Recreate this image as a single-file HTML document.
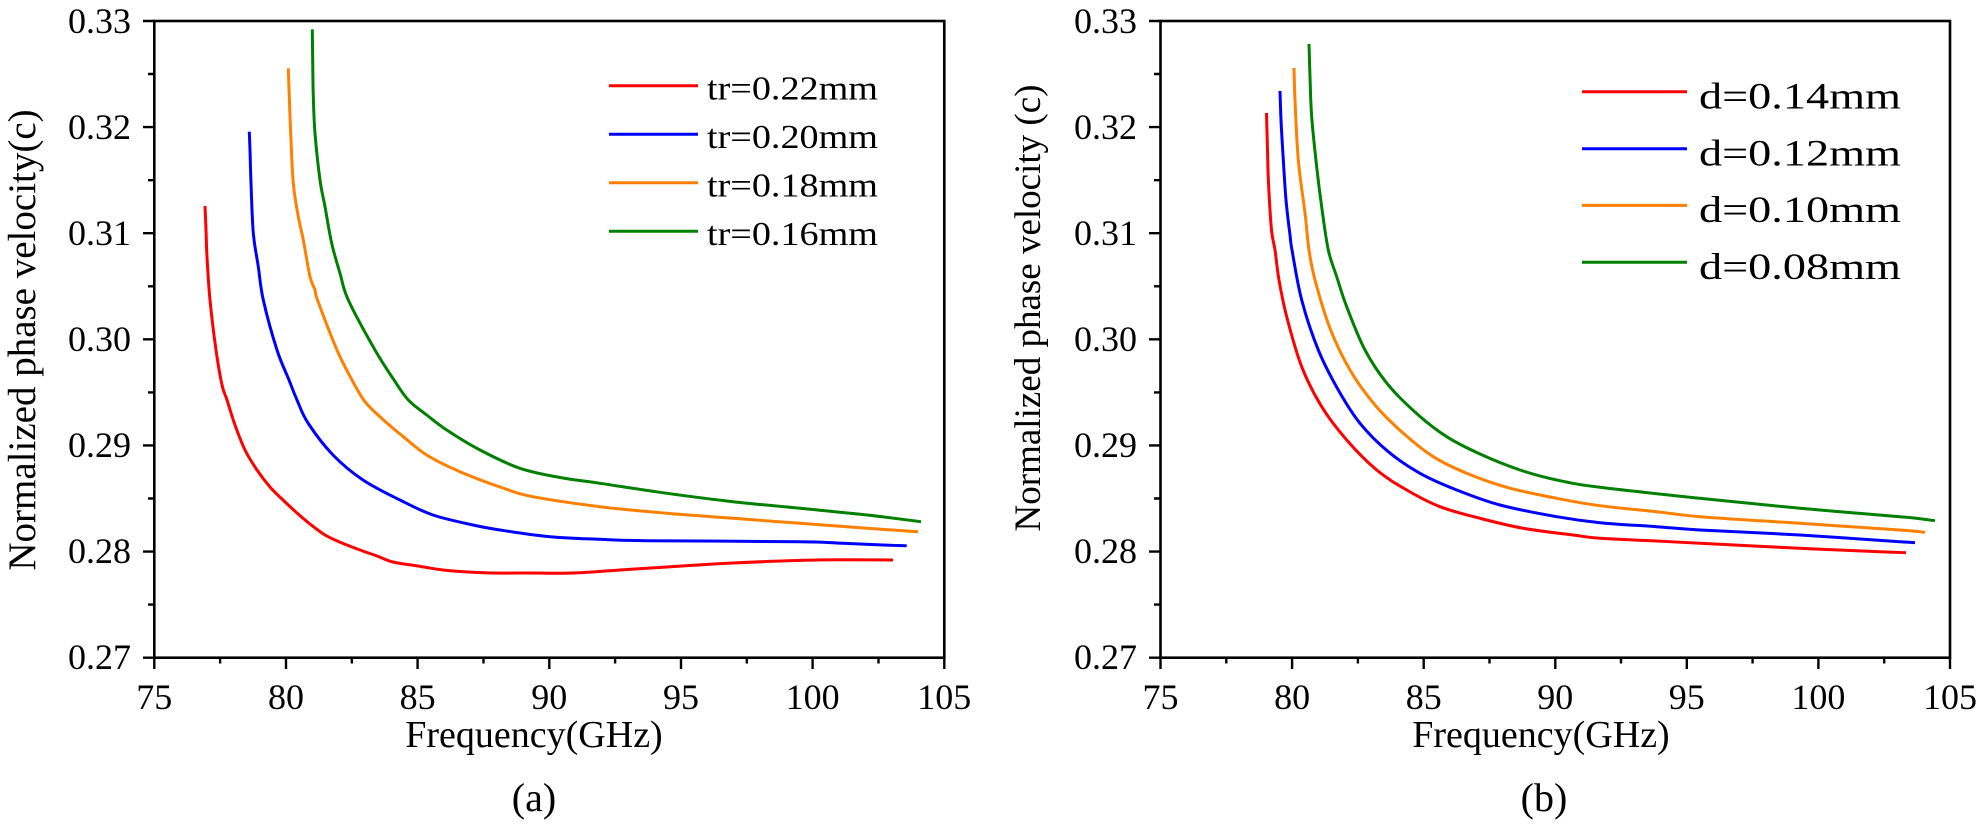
<!DOCTYPE html>
<html><head><meta charset="utf-8"><style>
html,body{margin:0;padding:0;background:#fff;}
svg{display:block;}
text{font-family:"Liberation Serif","Times New Roman",serif;fill:#000;}
</style></head><body>
<svg id="chart" width="1984" height="826" viewBox="0 0 1984 826" xmlns="http://www.w3.org/2000/svg">
<g fill="none" stroke-linejoin="round" stroke-linecap="butt" stroke-width="3">
<!-- Left plot curves -->
<polyline class="c" stroke="#FF0000" points="205,206 206,230 207,257 210,300 216,350 222,385 227,400 235,425 245,450 257,470 270,487 283,500 297,513 310,524 325,535 342,543 360,550 377,556 393,562 418,566 443,570 468,572 493,573 530,573 573,573 620,570 667,567 733,563 817,560 893,560"/>
<polyline class="c" stroke="#0000FF" points="249.3,131.7 250,150 251,183 253.3,233 258.3,266.7 263.3,300 277,350 289,380 297,400 308,423 333,455 363,480 400,500 433,515 473,525 500,530 550,536.7 600,539.3 647,540.7 800,541.7 843,543.3 883,545 906.7,545.7"/>
<polyline class="c" stroke="#FF8000" points="288.3,68.3 289.3,96.7 290.7,133.3 293.3,183.3 298.3,216.7 303.3,240 310,276.7 315,290 317.5,300 337,350 352,380 365,401.7 381.7,418.3 403.3,436.7 426.7,455 460,471.7 503,488 533,496.7 600,506.7 667,513.3 733,518.3 800,523.3 867,528.3 918,531.7"/>
<polyline class="c" stroke="#008000" points="312.3,29.3 312.7,61.7 313.3,96.7 315,133.3 320,180 325,206.7 331.7,243.3 340,273.3 348.3,300 375,350 394,380 408.3,400 426.7,415 446.7,430 480,450 520,468.3 560,477.5 600,483.3 667,493.3 733,501.7 800,508.3 867,515 921,521.7"/>
<!-- Right plot curves -->
<polyline class="c" stroke="#FF0000" points="1266.5,113 1267.5,150 1268.5,183 1271.5,230 1275,250 1279,280 1286.7,316.7 1301.7,366.7 1321.7,406.7 1346.7,440 1376.7,470 1406.7,490 1440,506.7 1480,518.3 1523.3,528.3 1573.3,535 1600,538.3 1656.7,541 1700,543.3 1800,548.3 1880,551.7 1906,552.7"/>
<polyline class="c" stroke="#0000FF" points="1280,91 1281,120 1282.7,150 1286,200 1290,235 1292,250 1301.7,300 1318.3,350 1338.3,390 1360,423.3 1388.3,451.7 1420,473.3 1456.7,490 1500,505 1556.7,516.7 1600,522.7 1656.7,526.7 1700,530 1800,535 1900,541.7 1915,542.7"/>
<polyline class="c" stroke="#FF8000" points="1294,68 1295,100 1298.3,160 1305,213 1309,250 1315,280 1330,328.3 1350,370 1375,405 1403.3,433.3 1433.3,456.7 1466.7,473.3 1506.7,487.3 1556.7,498.3 1600,505.7 1656.7,511.7 1700,516.7 1800,523.3 1900,530 1925,532.3"/>
<polyline class="c" stroke="#008000" points="1309,44 1310,77 1311.7,117 1316.7,167 1321.7,207 1328.3,250 1336.7,276.7 1346.7,306.7 1365,350 1388.3,385 1418.3,415 1446.7,436.7 1480,454 1520,470 1556.7,480 1600,487.3 1700,498.3 1800,508.3 1900,516.7 1935,520.7"/>
<!-- legends -->
<line x1="609" y1="85.7" x2="698" y2="85.7" stroke="#FF0000"/>
<line x1="609" y1="134.2" x2="698" y2="134.2" stroke="#0000FF"/>
<line x1="609" y1="182.7" x2="698" y2="182.7" stroke="#FF8000"/>
<line x1="609" y1="231.2" x2="698" y2="231.2" stroke="#008000"/>
<line x1="1582" y1="91.7" x2="1687" y2="91.7" stroke="#FF0000"/>
<line x1="1582" y1="148.7" x2="1687" y2="148.7" stroke="#0000FF"/>
<line x1="1582" y1="205.4" x2="1687" y2="205.4" stroke="#FF8000"/>
<line x1="1582" y1="262.3" x2="1687" y2="262.3" stroke="#008000"/>
</g>
<!-- Axes frames -->
<g fill="none" stroke="#000" stroke-width="2.6">
<rect x="154.3" y="21" width="790" height="636.7"/>
<rect x="1160.5" y="21" width="789.5" height="636.7"/>
</g>
<!-- ticks -->
<g stroke="#000" stroke-width="2.4">
<path d="M143,21H154.3M143,127.1H154.3M143,233.2H154.3M143,339.3H154.3M143,445.4H154.3M143,551.6H154.3M143,657.7H154.3"/>
<path d="M148,74H154.3M148,180.2H154.3M148,286.3H154.3M148,392.4H154.3M148,498.5H154.3M148,604.6H154.3"/>
<path d="M154.3,657.7V669M286,657.7V669M417.6,657.7V669M549.3,657.7V669M681,657.7V669M812.6,657.7V669M944.3,657.7V669"/>
<path d="M220.1,657.7V663.5M351.8,657.7V663.5M483.5,657.7V663.5M615.1,657.7V663.5M746.8,657.7V663.5M878.5,657.7V663.5"/>
<path d="M1149,21H1160.5M1149,127.1H1160.5M1149,233.2H1160.5M1149,339.3H1160.5M1149,445.4H1160.5M1149,551.6H1160.5M1149,657.7H1160.5"/>
<path d="M1154,74H1160.5M1154,180.2H1160.5M1154,286.3H1160.5M1154,392.4H1160.5M1154,498.5H1160.5M1154,604.6H1160.5"/>
<path d="M1160.5,657.7V669M1292.1,657.7V669M1423.7,657.7V669M1555.3,657.7V669M1686.8,657.7V669M1818.4,657.7V669M1950,657.7V669"/>
<path d="M1226.3,657.7V663.5M1357.9,657.7V663.5M1489.5,657.7V663.5M1621,657.7V663.5M1752.6,657.7V663.5M1884.2,657.7V663.5"/>
</g>
<!-- y tick labels -->
<g font-size="36" text-anchor="end">
<text x="131" y="33">0.33</text>
<text x="131" y="139">0.32</text>
<text x="131" y="245">0.31</text>
<text x="131" y="351">0.30</text>
<text x="131" y="457">0.29</text>
<text x="131" y="563">0.28</text>
<text x="131" y="669">0.27</text>
<text x="1137" y="33">0.33</text>
<text x="1137" y="139">0.32</text>
<text x="1137" y="245">0.31</text>
<text x="1137" y="351">0.30</text>
<text x="1137" y="457">0.29</text>
<text x="1137" y="563">0.28</text>
<text x="1137" y="669">0.27</text>
</g>
<!-- x tick labels -->
<g font-size="36" text-anchor="middle">
<text x="154.3" y="709">75</text>
<text x="286" y="709">80</text>
<text x="417.6" y="709">85</text>
<text x="549.3" y="709">90</text>
<text x="681" y="709">95</text>
<text x="812.6" y="709">100</text>
<text x="944.3" y="709">105</text>
<text x="1160.5" y="709">75</text>
<text x="1292.1" y="709">80</text>
<text x="1423.7" y="709">85</text>
<text x="1555.3" y="709">90</text>
<text x="1686.8" y="709">95</text>
<text x="1818.4" y="709">100</text>
<text x="1950" y="709">105</text>
</g>
<!-- axis titles -->
<g font-size="38" text-anchor="middle">
<text x="534" y="747">Frequency(GHz)</text>
<text x="1541" y="747">Frequency(GHz)</text>
<text x="534" y="811" font-size="40">(a)</text>
<text x="1544" y="811" font-size="40">(b)</text>
</g>
<text font-size="39" text-anchor="middle" transform="translate(35,340) rotate(-90)">Normalized phase velocity(c)</text>
<text font-size="37" text-anchor="middle" transform="translate(1040,308) rotate(-90)">Normalized phase velocity (c)</text>
<!-- legend text -->
<g font-size="34">
<text x="707" y="99.3" textLength="171" lengthAdjust="spacingAndGlyphs">tr=0.22mm</text>
<text x="707" y="147.8" textLength="171" lengthAdjust="spacingAndGlyphs">tr=0.20mm</text>
<text x="707" y="196.3" textLength="171" lengthAdjust="spacingAndGlyphs">tr=0.18mm</text>
<text x="707" y="244.8" textLength="171" lengthAdjust="spacingAndGlyphs">tr=0.16mm</text>
</g>
<g font-size="37">
<text x="1699" y="108.3" textLength="202" lengthAdjust="spacingAndGlyphs">d=0.14mm</text>
<text x="1699" y="165.3" textLength="202" lengthAdjust="spacingAndGlyphs">d=0.12mm</text>
<text x="1699" y="222" textLength="202" lengthAdjust="spacingAndGlyphs">d=0.10mm</text>
<text x="1699" y="278.9" textLength="202" lengthAdjust="spacingAndGlyphs">d=0.08mm</text>
</g>
</svg>
<script>
(function(){
  var ns="http://www.w3.org/2000/svg";
  var pls=document.querySelectorAll("polyline.c");
  for(var i=0;i<pls.length;i++){
    var pl=pls[i];
    var raw=pl.getAttribute("points").trim().split(/\s+/);
    var p=raw.map(function(s){var a=s.split(",");return [parseFloat(a[0]),parseFloat(a[1])];});
    if(p.length<3) continue;
    var d="M"+p[0][0]+","+p[0][1];
    for(var k=0;k<p.length-1;k++){
      var p0=p[k>0?k-1:0],p1=p[k],p2=p[k+1],p3=p[k+2<p.length?k+2:p.length-1];
      var c1x=p1[0]+(p2[0]-p0[0])/6,c1y=p1[1]+(p2[1]-p0[1])/6;
      var c2x=p2[0]-(p3[0]-p1[0])/6,c2y=p2[1]-(p3[1]-p1[1])/6;
      d+=" C"+c1x.toFixed(2)+","+c1y.toFixed(2)+" "+c2x.toFixed(2)+","+c2y.toFixed(2)+" "+p2[0]+","+p2[1];
    }
    var path=document.createElementNS(ns,"path");
    path.setAttribute("d",d);
    path.setAttribute("stroke",pl.getAttribute("stroke"));
    path.setAttribute("fill","none");
    pl.parentNode.replaceChild(path,pl);
  }
})();
</script>
</body></html>
